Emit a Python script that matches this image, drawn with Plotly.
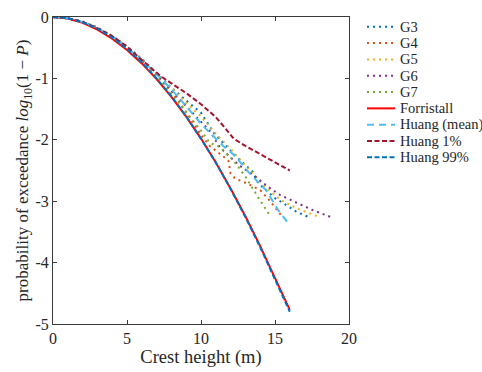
import plotly.graph_objects as go

# ---- data ----
g3_x = [0, 1, 2, 3, 4, 5, 6, 7, 8, 9, 10, 10.9, 11.5, 12.5, 13.5, 13.8, 14.2, 15.0, 15.8, 16.5, 17.4]
g3_y = [0, -0.02, -0.07, -0.17, -0.31, -0.48, -0.68, -0.91, -1.15, -1.36, -1.56, -1.9, -2.05, -2.3, -2.52, -2.68, -2.78, -2.95, -3.07, -3.18, -3.27]

g4_x = [0, 1, 2, 3, 4, 5, 6, 7, 8, 9, 10, 10.6, 11.2, 11.85, 12.0, 12.3, 13.1, 14.0, 14.6, 15.1, 15.56]
g4_y = [0, -0.02, -0.08, -0.18, -0.32, -0.5, -0.71, -0.95, -1.2, -1.55, -1.92, -2.1, -2.21, -2.34, -2.55, -2.63, -2.71, -2.82, -2.98, -3.14, -3.27]

g5_x = [0, 1, 2, 3, 4, 5, 6, 7, 8, 9, 10, 11, 12, 13, 13.8, 14.5, 15.45, 16.5, 17.9]
g5_y = [0, -0.02, -0.08, -0.17, -0.31, -0.49, -0.69, -0.92, -1.15, -1.4, -1.62, -1.9, -2.15, -2.42, -2.63, -2.8, -2.99, -3.12, -3.25]

g6_x = [0, 1, 2, 3, 4, 5, 6, 7, 8, 9, 9.5, 10.6, 11.3, 12.6, 13.5, 14.5, 15.35, 16.5, 17.5, 18.9]
g6_y = [0, -0.02, -0.08, -0.18, -0.32, -0.5, -0.7, -0.94, -1.2, -1.45, -1.57, -1.86, -2.13, -2.42, -2.57, -2.76, -2.9, -3.03, -3.14, -3.27]

g7_x = [0, 1, 2, 3, 4, 5, 6, 7, 8, 9, 10, 10.6, 11.3, 12.2, 13.0, 13.9, 14.7]
g7_y = [0, -0.02, -0.08, -0.18, -0.33, -0.51, -0.72, -0.97, -1.25, -1.55, -1.85, -2.05, -2.12, -2.34, -2.6, -2.95, -3.25]

forr_x = [0, 1, 2, 3, 4, 5, 6, 7, 8, 9, 10, 11, 12, 13, 14, 15, 16]
forr_y = [0, -0.026, -0.095, -0.205, -0.352, -0.536, -0.756, -1.011, -1.30, -1.623, -1.98, -2.369, -2.792, -3.246, -3.732, -4.25, -4.77]

hmean_x = [0, 1, 2, 3, 4, 5, 6, 7, 8, 9, 10, 11, 11.5, 12.2, 13.3, 14.4, 15.2, 15.9]
hmean_y = [0, -0.02, -0.08, -0.18, -0.32, -0.5, -0.7, -0.93, -1.18, -1.45, -1.74, -1.98, -2.1, -2.24, -2.55, -2.82, -3.14, -3.36]

h1_x = [0, 1, 2, 3, 4, 5, 6, 7.25, 8, 9, 10, 11, 11.6, 12.2, 13, 14, 15, 16]
h1_y = [0, -0.02, -0.08, -0.18, -0.31, -0.48, -0.7, -0.96, -1.08, -1.24, -1.42, -1.63, -1.8, -1.98, -2.1, -2.23, -2.37, -2.5]

h99_x = [0, 1, 2, 3, 4, 5, 6, 7, 8, 9, 10, 11, 12, 13, 14, 15, 16]
h99_y = [0, -0.02, -0.085, -0.19, -0.335, -0.52, -0.74, -1.0, -1.29, -1.62, -1.98, -2.37, -2.8, -3.26, -3.75, -4.27, -4.80]

x_ticks = [0, 5, 10, 15, 20]
y_ticks = [0, -1, -2, -3, -4, -5]
y_tick_text = ["0", "-1", "-2", "-3", "-4", "-5"]

series = [
    ("G3", g3_x, g3_y, "#0072BD", "2px,4px"),
    ("G4", g4_x, g4_y, "#D95319", "2px,4px"),
    ("G5", g5_x, g5_y, "#EDB120", "2px,4px"),
    ("G6", g6_x, g6_y, "#7E2F8E", "2px,4px"),
    ("G7", g7_x, g7_y, "#77AC30", "2px,4px"),
    ("Forristall", forr_x, forr_y, "#FF0000", "solid"),
    ("Huang (mean)", hmean_x, hmean_y, "#4DBEEE", "7px,5px"),
    ("Huang 1%", h1_x, h1_y, "#A2142F", "5px,2.5px"),
    ("Huang 99%", h99_x, h99_y, "#0072BD", "5px,2.5px"),
]

font_family = "Liberation Serif, DejaVu Serif, serif"
text_color = "#262626"

fig = go.Figure()
for name, xs, ys, col, dash in series:
    fig.add_trace(go.Scatter(x=xs, y=ys, mode="lines", name=name, showlegend=False,
                             line=dict(color=col, width=2, dash=dash)))

# legend drawn as layout items (paper coordinates), one row per series
top_px, plot_h, bottom_margin, fig_h = 9, 315, 48, 372
left_px, plot_w = 53, 296
row0, row_step = 19, 16.75
shapes, annotations = [], []
for i, (name, xs, ys, col, dash) in enumerate(series):
    py = row0 + i * row_step
    yp = (fig_h - bottom_margin - py) / plot_h
    x0 = (367 - left_px) / plot_w
    x1 = (395 - left_px) / plot_w
    xt = (398 - left_px) / plot_w
    shapes.append(dict(type="line", xref="paper", yref="paper", x0=x0, x1=x1, y0=yp, y1=yp,
                       line=dict(color=col, width=2, dash=dash)))
    annotations.append(dict(xref="paper", yref="paper", x=xt, y=yp, xanchor="left",
                            yanchor="middle", text=name, showarrow=False,
                            font=dict(family=font_family, size=14.5, color=text_color)))

axis_common = dict(showline=True, linecolor="#3a3a3a", linewidth=1, mirror="ticks",
                   ticks="inside", ticklen=4, tickcolor="#3a3a3a",
                   showgrid=False, zeroline=False,
                   tickfont=dict(family=font_family, size=16, color=text_color))

fig.update_layout(
    width=482, height=372,
    margin=dict(l=left_px, r=482 - left_px - plot_w, t=top_px, b=bottom_margin),
    plot_bgcolor="white", paper_bgcolor="white",
    font=dict(family=font_family, color=text_color),
    xaxis=dict(range=[0, 20], tickvals=x_ticks,
               title=dict(text="Crest height (m)", font=dict(size=18.5), standoff=0),
               **axis_common),
    yaxis=dict(range=[-5, 0], tickvals=y_ticks, ticktext=y_tick_text,
               title=dict(text="probability of exceedance <i>log</i><sub>10</sub>(1 − <i>P</i>)",
                          font=dict(size=17), standoff=2),
               **axis_common),
    shapes=shapes,
    annotations=annotations,
    showlegend=False,
)

fig.write_html("out.html")
